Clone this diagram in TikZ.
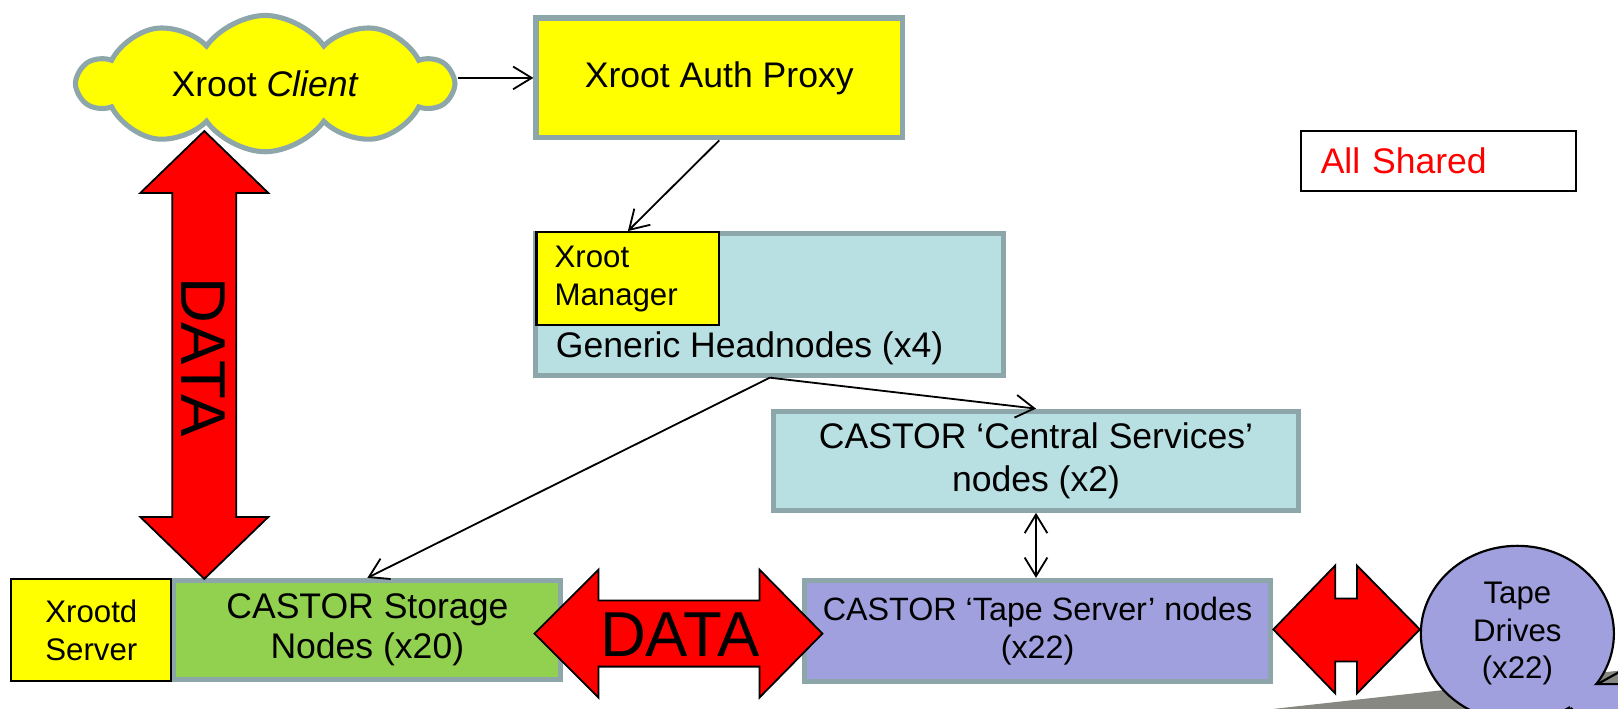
\documentclass[tikz,border=0pt]{standalone}
\usepackage{fontspec}
\setmainfont{Liberation Sans}
\usetikzlibrary{shapes.symbols}
\usetikzlibrary{shapes.geometric}
\usetikzlibrary{arrows.meta}

\definecolor{boxgray}{RGB}{140,166,170}
\definecolor{headblue}{RGB}{184,223,226}
\definecolor{tapepurple}{RGB}{160,160,222}
\definecolor{storegreen}{RGB}{146,208,80}
\definecolor{shadowgray}{RGB}{136,136,131}
\definecolor{brightyellow}{RGB}{255,255,0}

\newcommand{\txtsz}{\fontsize{9.8}{11.2}\selectfont}
\newcommand{\smallsz}{\fontsize{8.6}{10.5}\selectfont}
\newcommand{\datasz}{\fontsize{17.5}{20}\selectfont}

\tikzset{
    graybox/.style={rectangle,draw=boxgray,line width=1.4pt,inner sep=0pt,align=center},
    blackbox/.style={rectangle,draw=black,line width=0.6pt,inner sep=0pt,align=center},
    conn/.style={-{Straight Barb[length=1.8mm,width=2.2mm]},line width=0.5pt},
    conntwo/.style={{Straight Barb[length=1.8mm,width=2.2mm]}-{Straight Barb[length=1.8mm,width=2.2mm]},line width=0.5pt},
    bigarrow/.style={draw=black,line width=0.5pt,fill=red},
}

\begin{document}
\begin{tikzpicture}[x=0.01cm,y=-0.01cm]
    \useasboundingbox (0,0) rectangle (1568,687);
    \clip (0,0) rectangle (1568,687);

    \fill[shadowgray] (1234,687) -- (1568,650) -- (1568,687) -- cycle;

    \node (client) at (257,81) [cloud,cloud puffs=10,cloud puff arc=110,aspect=2.8,draw=boxgray,line width=1.4pt,fill=brightyellow,minimum width=3.62cm,minimum height=1.32cm,inner sep=0pt,font=\txtsz] {Xroot \textit{Client}};
    \node (proxy) at (697,75.5) [graybox,fill=brightyellow,minimum width=3.55cm,minimum height=1.16cm,font=\txtsz] {Xroot Auth Proxy};
    \node (shared) at (1394,156) [draw,line width=0.6pt,fill=white,minimum width=2.66cm,minimum height=0.58cm,text width=2.28cm,align=left,text=red,font=\txtsz] {All Shared};

    \node (head) at (746,295) [graybox,fill=headblue,minimum width=4.53cm,minimum height=1.37cm] {};
    \node (manager) at (608.5,270) [blackbox,fill=brightyellow,minimum width=1.77cm,minimum height=0.9cm,text width=1.42cm,align=left,font=\smallsz] {Xroot\\Manager};
    \node (headlbl) at (538,338) [anchor=west,inner sep=0pt,font=\txtsz] {Generic Headnodes (x4)};

    \node (central) at (1004,446.5) [graybox,fill=headblue,minimum width=5.09cm,minimum height=0.96cm,font=\fontsize{9.8}{12}\selectfont] {CASTOR ‘Central Services’\\nodes (x2)};
    \node (tapesrv) at (1005.5,611.5) [graybox,fill=tapepurple,minimum width=4.52cm,minimum height=0.98cm,font=\fontsize{8.9}{10.5}\selectfont] {CASTOR ‘Tape Server’ nodes\\(x22)};
    \node (storage) at (356,610.5) [graybox,fill=storegreen,minimum width=3.75cm,minimum height=0.96cm,font=\fontsize{9.8}{11.1}\selectfont] {CASTOR Storage\\Nodes (x20)};
    \node (xrootd) at (88.5,610.5) [blackbox,fill=brightyellow,minimum width=1.55cm,minimum height=0.99cm,font=\smallsz] {Xrootd\\Server};

    \node (drives) at (1470.5,614) [ellipse,draw=black,line width=0.6pt,fill=tapepurple,minimum width=1.87cm,minimum height=1.7cm,inner sep=0pt,align=center,font=\fontsize{8.6}{10.4}\selectfont] {Tape\\Drives\\(x22)};
    \fill[tapepurple] (1548,663) -- (1600,663) -- (1560,720) -- (1522,686) -- (1515,670) -- cycle;
    \fill[shadowgray] (1548,663) -- (1575,648) -- (1575,663) -- cycle;
    \draw[line width=0.6pt] (1575,648) -- (1548,663) -- (1600,663);
    \draw[line width=0.6pt] (1522,686) -- (1560,720);

    \draw[bigarrow] (198,127) -- (260,187) -- (229,187) -- (229,501) -- (260,501) -- (198,561) -- (136,501) -- (167,501) -- (167,187) -- (136,187) -- cycle;
    \node (datav) at (197,346) [rotate=-90,font=\datasz] {DATA};

    \draw[bigarrow] (518,614) -- (580,552) -- (580,582) -- (736,582) -- (736,552) -- (797,614) -- (736,676) -- (736,646) -- (580,646) -- (580,676) -- cycle;
    \node (datah) at (659,615) [font=\datasz] {DATA};

    \draw[bigarrow] (1234,610) -- (1294,548) -- (1294,580) -- (1315,580) -- (1315,548) -- (1376,610) -- (1315,672) -- (1315,641) -- (1294,641) -- (1294,672) -- cycle;

    \draw[conn] (client.east |- proxy.west) -- (proxy.west);
    \draw[conn] (proxy.south) -- (manager.north);
    \draw[conn] (head.south) -- (central.north);
    \draw[conn] (head.south) -- (storage.north);
    \draw[conntwo] (central.south) -- (central.south |- tapesrv.north);
\end{tikzpicture}
\end{document}
